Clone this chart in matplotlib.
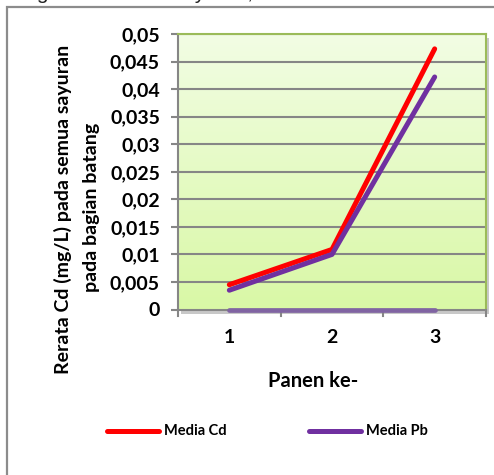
import numpy as np
import matplotlib
matplotlib.use("Agg")
import matplotlib.pyplot as plt
from matplotlib.patches import Rectangle
from matplotlib.colors import LinearSegmentedColormap

# Data
panen = [1, 2, 3]
media_cd = [0.0045, 0.0109, 0.0473]
media_pb = [0.0035, 0.0100, 0.0422]
baseline_series = [0.0, 0.0, 0.0]
y_ticks = [0, 0.005, 0.01, 0.015, 0.02, 0.025, 0.03, 0.035, 0.04, 0.045, 0.05]
y_tick_labels = ["0", "0,005", "0,01", "0,015", "0,02", "0,025", "0,03",
                 "0,035", "0,04", "0,045", "0,05"]

FONT = ["Lato", "DejaVu Sans"]
W, H = 494, 475
fig = plt.figure(figsize=(W / 100, H / 100), dpi=100)
fig.patch.set_facecolor("white")

def fx(px):
    return px / W

def fy(py):
    return 1 - py / H

# outer frame of the chart object
fig.add_artist(Rectangle((fx(7), fy(520)), fx(560), 513 / H,
                         transform=fig.transFigure, fill=False,
                         edgecolor="#8c8c8c", linewidth=1.6, zorder=-2))

# text of the surrounding page, clipped by the image top
fig.text(fx(-4), fy(-1), "atang dan  Media  Sayuran, Sumber", fontsize=15,
         family=["Liberation Sans", "DejaVu Sans"], color="#222222",
         va="baseline", ha="left")

left, right, top, bottom = 178, 486, 34, 309.5
ax = fig.add_axes([fx(left), fy(bottom), fx(right - left), (bottom - top) / H])
ax.set_zorder(1)

# drop shadow of the plot area
fig.add_artist(Rectangle((fx(left + 3), fy(bottom + 4)), fx(right - left), (bottom - top) / H,
                         transform=fig.transFigure, facecolor="#c8c8c8",
                         edgecolor="none", zorder=-1))

ax.set_xlim(0.5, 3.5)
ax.set_ylim(0, 0.05)

# vertical gradient fill
cmap = LinearSegmentedColormap.from_list("g", ["#d9f8a6", "#f2fde4"])
grad = np.linspace(0, 1, 256).reshape(-1, 1)
ax.imshow(grad, extent=[0.5, 3.5, 0, 0.05], origin="lower", aspect="auto",
          cmap=cmap, zorder=0)

for yv in y_ticks[1:]:
    ax.axhline(yv, color="#868686", linewidth=1.5, zorder=1)

ax.plot(panen, baseline_series, color="#8064a2", linewidth=3.4,
        solid_capstyle="round", zorder=3, clip_on=False)
ax.plot(panen, media_cd, color="#ff0000", linewidth=3.6,
        solid_capstyle="round", solid_joinstyle="round", zorder=4, label="Media Cd")
ax.plot(panen, media_pb, color="#7030a0", linewidth=3.6,
        solid_capstyle="round", solid_joinstyle="round", zorder=5, label="Media Pb")

ax.set_yticks(y_ticks)
ax.set_yticklabels(y_tick_labels, fontsize=14, fontweight="bold", family=FONT)
ax.set_xticks(panen)
ax.set_xticklabels([str(p) for p in panen], fontsize=14, fontweight="bold", family=FONT)
ax.tick_params(axis="y", direction="out", length=5, width=1.5, color="#868686", pad=8)
ax.tick_params(axis="x", length=0, pad=14)
for xb in [0.5, 1.5, 2.5, 3.5]:
    ax.plot([xb, xb], [0, -0.0011], color="#868686", linewidth=1.5,
            clip_on=False, zorder=2)

ax.spines["left"].set_color("#868686")
ax.spines["bottom"].set_color("#868686")
ax.spines["left"].set_linewidth(1.5)
ax.spines["bottom"].set_linewidth(1.5)
ax.spines["top"].set_color("#9bbb59")
ax.spines["right"].set_color("#9bbb59")
ax.spines["top"].set_linewidth(1.5)
ax.spines["right"].set_linewidth(1.5)
for s in ax.spines.values():
    s.set_zorder(2)

# axis titles
fig.text(fx(63), fy(209), "Rerata Cd (mg/L) pada semua sayuran", rotation=90,
         fontsize=14, fontweight="bold", family=FONT, ha="center", va="center")
fig.text(fx(91), fy(207), "pada bagian batang", rotation=90,
         fontsize=14, fontweight="bold", family=FONT, ha="center", va="center")
fig.text(fx(313), fy(381), "Panen ke-", fontsize=14.5, fontweight="bold",
         family=FONT, ha="center", va="center")

# legend
fig.add_artist(plt.Line2D([fx(107), fx(159)], [fy(431), fy(431)],
                          color="#ff0000", linewidth=3.6, solid_capstyle="round"))
fig.text(fx(164), fy(431), "Media Cd", fontsize=10.5, fontweight="bold",
         family=FONT, ha="left", va="center")
fig.add_artist(plt.Line2D([fx(309), fx(361)], [fy(431), fy(431)],
                          color="#7030a0", linewidth=3.6, solid_capstyle="round"))
fig.text(fx(366), fy(431), "Media Pb", fontsize=10.5, fontweight="bold",
         family=FONT, ha="left", va="center")

fig.savefig("out.png", dpi=100, facecolor="white")
